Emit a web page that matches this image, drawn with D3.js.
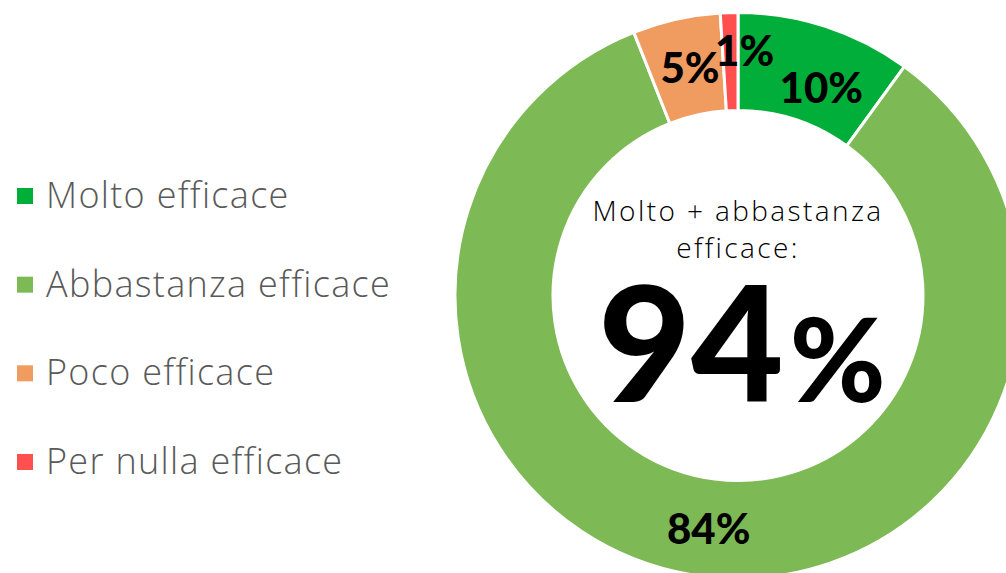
<!DOCTYPE html>
<html>
<head>
<meta charset="utf-8">
<script src="https://cdn.jsdelivr.net/npm/d3@7"></script>
<style>
  html, body { margin: 0; padding: 0; background: #fff; overflow: hidden; }
  svg { display: block; }
  text { font-variant-ligatures: none; font-feature-settings: "liga" 0, "clig" 0; }
</style>
</head>
<body>
<svg id="chart" width="1006" height="573"></svg>
<script>
// Survey answers: how effective is it?
const categories = ["Molto efficace", "Abbastanza efficace", "Poco efficace", "Per nulla efficace"];
const values = [10, 84, 5, 1];
const colors = ["#00AE39", "#7DB955", "#F09C60", "#FF4F4F"];
const summaryLines = ["Molto + abbastanza", "efficace:"];
const summaryValue = values[0] + values[1];

const W = 1006, H = 573;
const svg = d3.select("#chart");

const cx = 738, cy = 295.5;
const outerR = 283, innerR = 185;

// Pie laid out clockwise from 12 o'clock, in category order
const pie = d3.pie().sort(null).value(d => d.value);
const arcs = pie(categories.map((c, i) => ({ name: c, value: values[i], color: colors[i] })));
const arc = d3.arc().innerRadius(innerR).outerRadius(outerR);

const g = svg.append("g").attr("transform", `translate(${cx},${cy})`);

g.selectAll("path.slice")
  .data(arcs)
  .join("path")
  .attr("class", "slice")
  .attr("d", arc)
  .attr("fill", d => d.data.color)
  .attr("stroke", "#fff")
  .attr("stroke-width", 3)
  .attr("stroke-linejoin", "miter");

// Percentage labels at each slice centroid; the small top slices are nudged apart
const nudge = [[11, 14], [0, 0], [3, 0], [14, -12]];
g.selectAll("text.pct")
  .data(arcs)
  .join("text")
  .attr("class", "pct")
  .attr("x", (d, i) => arc.centroid(d)[0] + nudge[i][0])
  .attr("y", (d, i) => arc.centroid(d)[1] + nudge[i][1])
  .attr("text-anchor", "middle")
  .attr("dominant-baseline", "central")
  .attr("font-family", "Lato, 'DejaVu Sans', sans-serif")
  .attr("font-weight", 900)
  .attr("font-size", 42)
  .attr("fill", "#000")
  .text(d => d.data.value + "%");

// Summary in the hole: caption lines followed by the combined share
const summary = g.append("text")
  .attr("text-anchor", "middle")
  .attr("fill", "#000");
summary.selectAll("tspan.caption")
  .data(summaryLines)
  .join("tspan")
  .attr("class", "caption")
  .attr("x", 0)
  .attr("y", (d, i) => -75 + i * 37.5)
  .attr("font-family", "'Open Sans', Lato, sans-serif")
  .attr("font-size", 28)
  .attr("font-weight", 300)
  .attr("letter-spacing", 2.4)
  .text(d => d);

const bigNum = summary.append("tspan")
  .attr("x", 0)
  .attr("y", 106)
  .attr("font-family", "Lato, 'DejaVu Sans', sans-serif")
  .attr("font-weight", 900);
bigNum.append("tspan").attr("x", 4).attr("font-size", 160).text(summaryValue);
bigNum.append("tspan").attr("font-size", 116).attr("dx", 6).text("%");

// Legend
const legend = svg.append("g").attr("transform", "translate(17,0)");
const legendY = d3.scalePoint().domain(categories).range([196, 462]);
const items = legend.selectAll("g.item")
  .data(categories)
  .join("g")
  .attr("class", "item")
  .attr("transform", d => `translate(0,${legendY(d)})`);
items.append("rect")
  .attr("x", 0).attr("y", -8).attr("width", 16).attr("height", 16)
  .attr("fill", (d, i) => colors[i]);
items.append("text")
  .attr("x", 29)
  .attr("y", 12)
  .attr("font-family", "'Open Sans', Lato, sans-serif")
  .attr("font-weight", 300)
  .attr("font-size", 36)
  .attr("letter-spacing", 1.3)
  .attr("fill", "#595959")
  .text(d => d);
</script>
</body>
</html>
